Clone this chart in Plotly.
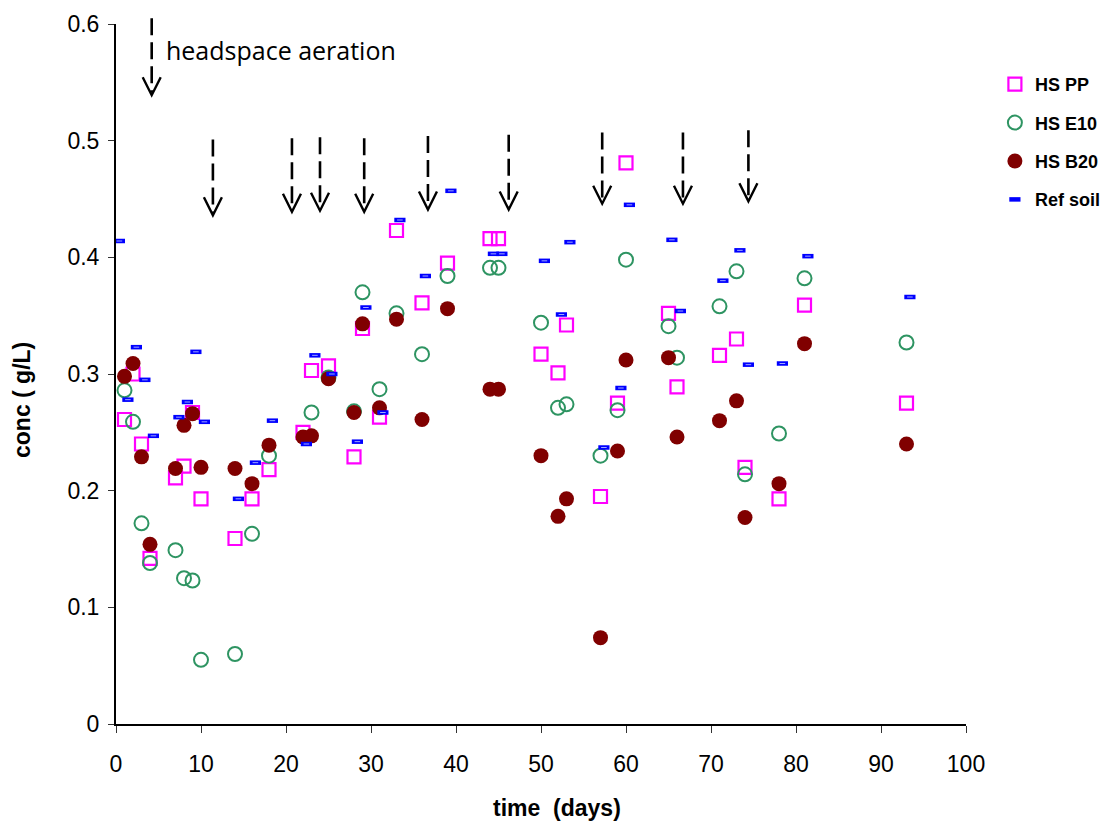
import plotly.graph_objects as go

# ---- measured headspace concentrations (g/L) vs time (days) ----
days_pp = [1, 2, 3, 4, 7, 8, 9, 10, 14, 16, 18, 22, 23, 25, 28, 29, 31, 33, 36, 39,
           44, 45, 50, 52, 53, 57, 59, 60, 65, 66, 71, 73, 74, 78, 81, 93]
conc_pp = [0.261, 0.300, 0.240, 0.142, 0.211, 0.221, 0.267, 0.193, 0.159, 0.193, 0.218,
           0.250, 0.303, 0.307, 0.229, 0.339, 0.263, 0.423, 0.361, 0.395,
           0.416, 0.416, 0.317, 0.301, 0.342, 0.195, 0.275, 0.481,
           0.352, 0.289, 0.316, 0.330, 0.220, 0.193, 0.359, 0.275]

days_e10 = [1, 2, 3, 4, 7, 8, 9, 10, 14, 16, 18, 23, 25, 28, 29, 31, 33, 36, 39,
            44, 45, 50, 52, 53, 57, 59, 60, 65, 66, 71, 73, 74, 78, 81, 93]
conc_e10 = [0.286, 0.259, 0.172, 0.138, 0.149, 0.125, 0.123, 0.055, 0.060, 0.163, 0.230,
            0.267, 0.297, 0.268, 0.370, 0.287, 0.352, 0.317, 0.384,
            0.391, 0.391, 0.344, 0.271, 0.274, 0.230, 0.269, 0.398,
            0.341, 0.314, 0.358, 0.388, 0.214, 0.249, 0.382, 0.327]

days_b20 = [1, 2, 3, 4, 7, 8, 9, 10, 14, 16, 18, 22, 23, 25, 28, 29, 31, 33, 36, 39,
            44, 45, 50, 52, 53, 57, 59, 60, 65, 66, 71, 73, 74, 78, 81, 93]
conc_b20 = [0.298, 0.309, 0.229, 0.154, 0.219, 0.256, 0.266, 0.220, 0.219, 0.206, 0.239,
            0.246, 0.247, 0.296, 0.267, 0.343, 0.271, 0.347, 0.261, 0.356,
            0.287, 0.287, 0.230, 0.178, 0.193, 0.074, 0.234, 0.312,
            0.314, 0.246, 0.260, 0.277, 0.177, 0.206, 0.326, 0.240]

days_ref = [0.4, 1.4, 2.4, 3.4, 4.4, 7.4, 8.4, 9.4, 10.4, 14.4, 16.4, 18.4,
            22.4, 23.4, 25.4, 28.4, 29.4, 31.4, 33.4, 36.4, 39.4,
            44.4, 45.4, 50.4, 52.4, 53.4, 57.4, 59.4, 60.4,
            65.4, 66.4, 71.4, 73.4, 74.4, 78.4, 81.4, 93.4]
conc_ref = [0.414, 0.278, 0.323, 0.295, 0.247, 0.263, 0.276, 0.319, 0.259, 0.193, 0.224, 0.260,
            0.240, 0.316, 0.300, 0.242, 0.357, 0.267, 0.432, 0.384, 0.457,
            0.403, 0.403, 0.397, 0.351, 0.413, 0.237, 0.288, 0.445,
            0.415, 0.354, 0.380, 0.406, 0.308, 0.309, 0.401, 0.366]

# headspace aeration events: day, arrow top and arrow tip (in g/L axis units)
aeration_days = [4.2, 11.4, 20.7, 24.0, 29.2, 36.7, 46.2, 57.2, 66.7, 74.4]
aeration_top = [0.605, 0.501, 0.502, 0.503, 0.502, 0.504, 0.505, 0.507, 0.507, 0.509]
aeration_tip = [0.539, 0.436, 0.439, 0.440, 0.439, 0.441, 0.441, 0.446, 0.446, 0.448]

x_ticks = list(range(0, 101, 10))
y_ticks = [0, 0.1, 0.2, 0.3, 0.4, 0.5, 0.6]
y_tick_text = ["0", "0.1", "0.2", "0.3", "0.4", "0.5", "0.6"]

X_RANGE = [0, 100]
Y_RANGE = [0, 0.6]

W, H = 1105, 821
M_L, M_R, M_T, M_B = 116, 139, 24, 97
plot_w = W - M_L - M_R
plot_h = H - M_T - M_B
px_per_day = plot_w / (X_RANGE[1] - X_RANGE[0])

tick_font = dict(family="Liberation Sans, Arial, sans-serif", size=23, color="black")
title_font = dict(family="Liberation Sans, Arial, sans-serif", size=23, color="black")

fig = go.Figure()

fig.add_trace(go.Scatter(
    x=days_pp, y=conc_pp, mode="markers", name="<b>HS PP</b>", legendgroup="pp",
    marker=dict(symbol="square-open", size=13, color="#FF00FF", line=dict(width=2.2, color="#FF00FF")),
))
fig.add_trace(go.Scatter(
    x=days_e10, y=conc_e10, mode="markers", name="<b>HS E10</b>", legendgroup="e10",
    marker=dict(symbol="circle-open", size=14, color="#2E9462", line=dict(width=2, color="#2E9462")),
))
fig.add_trace(go.Scatter(
    x=days_b20, y=conc_b20, mode="markers", name="<b>HS B20</b>", legendgroup="b20",
    marker=dict(symbol="circle", size=15, color="#800000", line=dict(width=0)),
))
fig.add_trace(go.Scatter(
    x=days_ref, y=conc_ref, mode="markers", name="<b>Ref soil</b>", legendgroup="ref",
    marker=dict(symbol="line-ew", size=8, color="#0000FF", line=dict(width=4.5, color="#0000FF")),
))
# light inner stroke of the reference-soil dashes
fig.add_trace(go.Scatter(
    x=days_ref, y=conc_ref, mode="markers", showlegend=False, legendgroup="ref", hoverinfo="skip",
    marker=dict(symbol="line-ew", size=4, color="#9FA8FF", line=dict(width=1, color="#9FA8FF")),
))

# dashed aeration arrows
yspan = Y_RANGE[1] - Y_RANGE[0]
head_dx = 9 / px_per_day              # half-width of arrowhead (days)
head_dy = 18 / plot_h * yspan         # arrowhead height (g/L)
for d, top, tip in zip(aeration_days, aeration_top, aeration_tip):
    fig.add_shape(type="line", xref="x", yref="paper",
                  x0=d, x1=d, y0=top / yspan, y1=(tip + 0.002) / yspan,
                  line=dict(color="black", width=2.6, dash="17px,7px"))
    fig.add_shape(type="path", xref="x", yref="paper",
                  path=(f"M {d - head_dx},{(tip + head_dy) / yspan} L {d},{tip / yspan} "
                        f"L {d + head_dx},{(tip + head_dy) / yspan}"),
                  line=dict(color="black", width=2.4))

fig.add_annotation(
    x=5.65, y=0.578, xref="x", yref="y", xanchor="left", yanchor="middle",
    text="headspace aeration", showarrow=False,
    font=dict(family="Open Sans, sans-serif", size=25, color="black"),
)

# axis titles
fig.add_annotation(
    x=(557 - M_L) / plot_w, y=-(808 - (H - M_B)) / plot_h, xref="paper", yref="paper",
    xanchor="center", yanchor="middle", text="<b>time  (days)</b>", showarrow=False,
    font=title_font,
)
fig.add_annotation(
    x=-(M_L - 22) / plot_w, y=1 - (400 - M_T) / plot_h, xref="paper", yref="paper",
    xanchor="center", yanchor="middle", text="<b>conc ( g/L)</b>", showarrow=False,
    textangle=-90, font=title_font,
)

fig.update_layout(
    width=W, height=H,
    margin=dict(l=M_L, r=M_R, t=M_T, b=M_B, pad=0, autoexpand=False),
    paper_bgcolor="white", plot_bgcolor="white",
    showlegend=True,
    legend=dict(
        x=1.034, y=0.94, xanchor="left", yanchor="top",
        font=dict(family="Liberation Sans, Arial, sans-serif", size=18, color="black"),
        traceorder="grouped", tracegroupgap=12, itemwidth=30,
        bgcolor="rgba(0,0,0,0)",
    ),
    xaxis=dict(
        range=X_RANGE, tickvals=x_ticks, ticks="outside", ticklen=7, tickwidth=1, tickcolor="#333",
        showline=True, linecolor="black", linewidth=1.5, showgrid=False, zeroline=False,
        tickfont=tick_font, ticklabelstandoff=12, automargin=False,
    ),
    yaxis=dict(
        range=Y_RANGE, tickvals=y_ticks, ticktext=y_tick_text, ticks="outside", ticklen=6, tickwidth=1,
        tickcolor="#333", showline=True, linecolor="black", linewidth=2, showgrid=False, zeroline=False,
        tickfont=tick_font, ticklabelstandoff=4, automargin=False,
    ),
)

fig.write_html("out.html")
